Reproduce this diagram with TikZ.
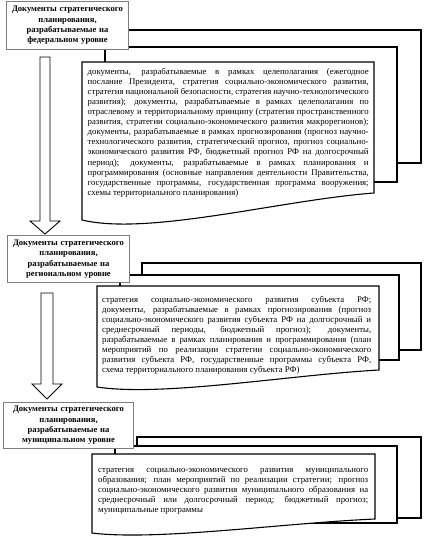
\documentclass[tikz,border=0pt]{standalone}
\usepackage{fontspec}
\setmainfont{Liberation Serif}
\usepackage{tikz}
\usetikzlibrary{calc, positioning}
\definecolor{boxgray}{RGB}{125,125,125}
\tikzstyle{levelbox} = [draw=boxgray, line width=0.9pt, fill=white, align=center, inner sep=0pt, font=\bfseries\fontsize{8.6}{10.4}\selectfont]
\tikzstyle{sheet} = [draw, line width=1.1pt, fill=white, line join=miter]
\tikzstyle{listtext} = [anchor=north west, inner sep=0pt, align=justify, font=\fontsize{8.8}{10.1}\selectfont]
\tikzstyle{blockarrow} = [draw, line width=0.9pt, fill=white]

\begin{document}
\begin{tikzpicture}[x=1bp, y=-1bp]
			\useasboundingbox (0,0) rectangle (424,541);

			% federal level
			\path [sheet] (127,30) rectangle (421,163);
			\path [sheet] (105,47) rectangle (397,182);
			\path [sheet] (82,62) -- (374,62) -- (374,193) .. controls (281,200) and (149,236) .. (82,220) -- cycle;
			\node [listtext, text width=282] (fedlist) at (87.5,68) {документы, разрабатываемые в рамках целеполагания (ежегодное\linebreak
			послание Президента, стратегия социально-экономического развития,\linebreak
			стратегия национальной безопасности, стратегия научно-технологического\linebreak
			развития); документы, разрабатываемые в рамках целеполагания по\linebreak
			отраслевому и территориальному принципу (стратегия пространственного\linebreak
			развития, стратегии социально-экономического развития макрорегионов);\linebreak
			документы, разрабатываемые в рамках прогнозирования (прогноз научно-\linebreak
			технологического развития, стратегический прогноз, прогноз социально-\linebreak
			экономического развития РФ, бюджетный прогноз РФ на долгосрочный\linebreak
			период); документы, разрабатываемые в рамках планирования и\linebreak
			программирования (основные направления деятельности Правительства,\linebreak
			государственные программы, государственная программа вооружения;\linebreak
			схемы территориального планирования)};
			\node [levelbox, text width=123, minimum height=49] (fed) at (67.5,25.5) {Документы стратегического\\ планирования,\\ разрабатываемые на\\ федеральном уровне};

			% regional level
			\path [sheet] (142,263) rectangle (421,350);
			\path [sheet] (120,275) rectangle (399,360);
			\path [sheet] (97,286) -- (379,286) -- (379,370) .. controls (289,375) and (162,397) .. (97,387) -- cycle;
			\node [listtext, text width=270] (reglist) at (102,296) {стратегия социально-экономического развития субъекта РФ;\linebreak
			документы, разрабатываемые в рамках прогнозирования (прогноз\linebreak
			социально-экономического развития субъекта РФ на долгосрочный и\linebreak
			среднесрочный периоды, бюджетный прогноз); документы,\linebreak
			разрабатываемые в рамках планирования и программирования (план\linebreak
			мероприятий по реализации стратегии социально-экономического\linebreak
			развития субъекта РФ, государственные программы субъекта РФ,\linebreak
			схема территориального планирования субъекта РФ)};
			\node [levelbox, text width=123, minimum height=48] (reg) at (68.5,259) {Документы стратегического\\ планирования,\\ разрабатываемые на\\ региональном уровне};

			% municipal level
			\path [sheet] (137,437) rectangle (421,518);
			\path [sheet] (115,446) rectangle (397,523);
			\path [sheet] (92,454) -- (375,454) -- (375,519) .. controls (284,523) and (157,541) .. (92,533) -- cycle;
			\node [listtext, text width=271] (munlist) at (98,468) {стратегия социально-экономического развития муниципального\linebreak
			образования; план мероприятий по реализации стратегии; прогноз\linebreak
			социально-экономического развития муниципального образования на\linebreak
			среднесрочный или долгосрочный период; бюджетный прогноз;\linebreak
			муниципальные программы};
			\node [levelbox, text width=131, minimum height=47] (mun) at (68.5,425.5) {Документы стратегического\\ планирования,\\ разрабатываемые на\\ муниципальном уровне};

			% arrows between levels
			\coordinate (fedout) at (45,57);
			\coordinate (regin) at (45,234);
			\coordinate (regout) at (47,293);
			\coordinate (munin) at (47,399);
			\path [blockarrow] ($(fedout)+(-5,0)$) -- ($(fedout)+(5,0)$) -- ($(regin)+(5,-13)$) -- ($(regin)+(15,-13)$) -- (regin) -- ($(regin)+(-15,-13)$) -- ($(regin)+(-5,-13)$) -- cycle;
			\path [blockarrow] ($(regout)+(-6,0)$) -- ($(regout)+(6,0)$) -- ($(munin)+(6,-15)$) -- ($(munin)+(15,-15)$) -- (munin) -- ($(munin)+(-15,-15)$) -- ($(munin)+(-6,-15)$) -- cycle;
		\end{tikzpicture}
\end{document}
